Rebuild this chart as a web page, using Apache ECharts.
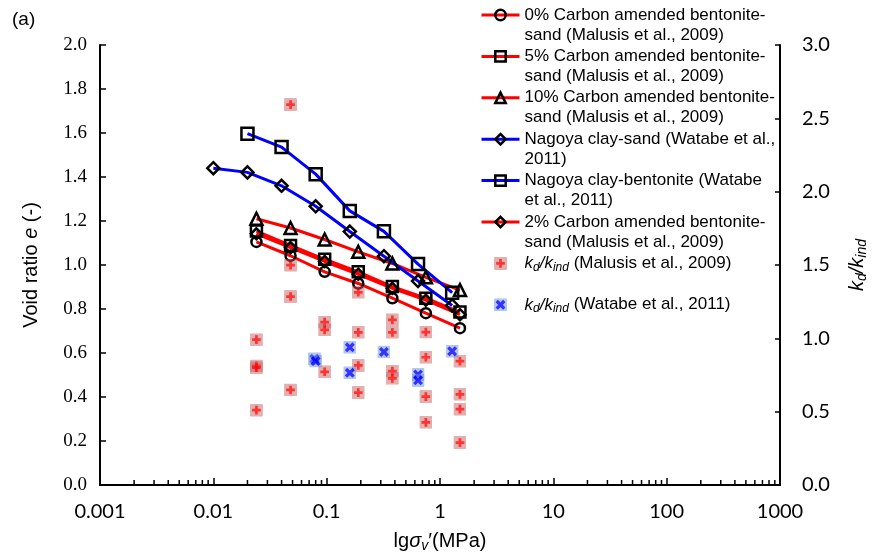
<!DOCTYPE html>
<html>
<head>
<meta charset="utf-8">
<script src="https://cdn.jsdelivr.net/npm/echarts@6/dist/echarts.min.js"></script>
<style>
  html, body { margin: 0; padding: 0; background: #fff; }
  #chart { width: 877px; height: 558px; }
</style>
</head>
<body>
<div id="chart"></div>
<script>
// vertical stress (MPa)
var malusisX = [0.024, 0.048, 0.096, 0.19, 0.38, 0.75, 1.5];
var watabeSandX = [0.01, 0.02, 0.04, 0.08, 0.16, 0.32, 0.64, 1.28];
var watabeBentX = [0.02, 0.04, 0.08, 0.16, 0.32, 0.64, 1.28];

// void ratio e
var carbon0 = [1.105, 1.042, 0.969, 0.916, 0.849, 0.781, 0.713];
var carbon5 = [1.154, 1.089, 1.026, 0.969, 0.902, 0.849, 0.786];
var carbon10 = [1.210, 1.168, 1.116, 1.060, 1.007, 0.944, 0.886];
var carbon2 = [1.142, 1.079, 1.016, 0.958, 0.894, 0.840, 0.774];
var nagoyaSand = [1.440, 1.421, 1.360, 1.267, 1.152, 1.040, 0.927, 0.816];
var nagoyaBent = [1.597, 1.536, 1.413, 1.246, 1.153, 1.004, 0.874];

// kd/kind
var kdMalusisX = [0.024, 0.024, 0.024, 0.024, 0.048, 0.048, 0.048, 0.048, 0.096, 0.096, 0.096,
  0.19, 0.19, 0.19, 0.19, 0.38, 0.38, 0.38, 0.38, 0.75, 0.75, 0.75, 0.75, 1.5, 1.5, 1.5, 1.5];
var kdMalusisY = [0.991, 0.812, 0.800, 0.510, 2.594, 1.499, 1.285, 0.648, 1.111, 1.058, 0.772,
  1.314, 1.041, 0.815, 0.630, 1.126, 1.041, 0.777, 0.727, 1.043, 0.871, 0.603, 0.427, 0.844, 0.618, 0.517, 0.289];
var kdWatabeX = [0.078, 0.08, 0.16, 0.16, 0.32, 0.64, 0.64, 1.28];
var kdWatabeY = [0.860, 0.845, 0.939, 0.765, 0.907, 0.754, 0.713, 0.912];

var xTickLabels = ['0.001', '0.01', '0.1', '1', '10', '100', '1000'];

// minor ticks of the log axis (2..9 in every decade)
var minorTicks = [];
for (var d = -3; d < 3; d++) {
  for (var k = 2; k <= 9; k++) {
    minorTicks.push([+(k * Math.pow(10, d)).toPrecision(2), 0]);
  }
}

var legendText = {
  'c0': '0% Carbon amended bentonite-\nsand (Malusis et al., 2009)',
  'c5': '5% Carbon amended bentonite-\nsand (Malusis et al., 2009)',
  'c10': '10% Carbon amended bentonite-\nsand (Malusis et al., 2009)',
  'ns': 'Nagoya clay-sand (Watabe et al.,\n2011)',
  'nb': 'Nagoya clay-bentonite (Watabe\net al., 2011)',
  'c2': '2% Carbon amended bentonite-\nsand (Malusis et al., 2009)',
  'km': '{i|k}{s|d}{i|/k}{s|ind}{n| (Malusis et al., 2009)}\n{n| }',
  'kw': '{i|k}{s|d}{i|/k}{s|ind}{n| (Watabe et al., 2011)}\n{n| }'
};

function pairs(xs, ys) {
  return xs.map(function (x, i) { return [x, ys[i]]; });
}

function svgSymbol(bg, mark) {
  var svg = "<svg xmlns='http://www.w3.org/2000/svg' width='24' height='24'>" +
    "<rect x='0' y='0' width='24' height='24' rx='2' fill='" + bg + "'/>" + mark + "</svg>";
  return 'image://data:image/svg+xml;charset=utf-8,' + encodeURIComponent(svg);
}
var plusSymbol = svgSymbol('rgba(196,90,90,0.6)',
  "<path d='M12 4V20M4 12H20' stroke='#ff0000' stroke-width='5'/>");
var crossSymbol = svgSymbol('rgba(100,140,215,0.6)',
  "<path d='M5 5L19 19M19 5L5 19' stroke='#0000ff' stroke-width='6'/>");

function lineSeries(key, xs, ys, color, symbol, size) {
  return {
    name: key,
    type: 'line',
    data: pairs(xs, ys),
    symbol: symbol,
    symbolSize: size,
    showAllSymbol: true,
    lineStyle: { color: color, width: 3 },
    itemStyle: { color: 'rgba(0,0,0,0)', borderColor: '#000', borderWidth: 2.5 },
    emphasis: { disabled: true },
    z: 3
  };
}

var chart = echarts.init(document.getElementById('chart'));

var option = {
  animation: false,
  title: {
    text: '(a)', left: 7, top: 5,
    textStyle: { fontFamily: 'Liberation Sans', fontSize: 19, fontWeight: 'normal', color: '#000' }
  },
  grid: { left: 100, right: 91, top: 45, bottom: 70 },
  legend: {
    orient: 'vertical',
    left: 480,
    top: -15,
    padding: 0,
    itemGap: -18.6,
    itemWidth: 38,
    itemHeight: 13,
    lineStyle: { width: 3 },
    itemStyle: { borderWidth: 2.5 },
    data: ['c0', 'c5', 'c10', 'ns', 'nb', 'c2', 'km', 'kw'],
    formatter: function (name) { return legendText[name]; },
    textStyle: {
      fontFamily: 'Liberation Sans', fontSize: 17, lineHeight: 20, color: '#000',
      padding: [20, 0, 0, 0],
      rich: {
        i: { fontFamily: 'Liberation Sans', fontStyle: 'italic', fontSize: 17, lineHeight: 20, color: '#000' },
        s: { fontFamily: 'Liberation Sans', fontStyle: 'italic', fontSize: 12, lineHeight: 12, verticalAlign: 'bottom', color: '#000' },
        n: { fontFamily: 'Liberation Sans', fontSize: 17, lineHeight: 20, color: '#000' }
      }
    }
  },
  xAxis: {
    type: 'log',
    logBase: 10,
    min: 0.001,
    max: 1000,
    name: '{n|lg}{i|σ}{s|v}{n|′(MPa)}',
    nameLocation: 'middle',
    nameGap: 44,
    nameTextStyle: {
      rich: {
        n: { fontFamily: 'Liberation Sans', fontSize: 20, color: '#000' },
        i: { fontFamily: 'Liberation Sans', fontStyle: 'italic', fontSize: 20, color: '#000' },
        s: { fontFamily: 'Liberation Sans', fontStyle: 'italic', fontSize: 14, color: '#000', padding: [10, 0, 0, 0] }
      }
    },
    axisLine: { lineStyle: { color: '#000', width: 2 } },
    axisTick: { inside: true, length: 7, lineStyle: { color: '#000', width: 1.5 } },
    axisLabel: {
      margin: 17, fontFamily: 'Lato', fontSize: 20, color: '#000',
      formatter: function (v) {
        var i = Math.round(Math.log10(v)) + 3;
        return xTickLabels[i] !== undefined ? xTickLabels[i] : '';
      }
    },
    splitLine: { show: false }
  },
  yAxis: [
    {
      type: 'value',
      min: 0, max: 2, interval: 0.2,
      name: '{n|Void ratio }{i|e}{n| (-)}',
      nameLocation: 'middle',
      nameGap: 59,
      nameTextStyle: {
        rich: {
          n: { fontFamily: 'Liberation Sans', fontSize: 20, color: '#000' },
          i: { fontFamily: 'Liberation Sans', fontStyle: 'italic', fontSize: 20, color: '#000' }
        }
      },
      axisLine: { show: true, lineStyle: { color: '#000', width: 2 } },
      axisTick: { show: true, inside: true, length: 6, lineStyle: { color: '#000', width: 1.5 } },
      axisLabel: {
        margin: 13, fontFamily: 'Liberation Serif', fontSize: 19, color: '#000',
        formatter: function (v) { return v.toFixed(1); }
      },
      splitLine: { show: false }
    },
    {
      type: 'value',
      position: 'right',
      min: 0, max: 3, interval: 0.5,
      name: '{i|k}{s|d}{i|/k}{s|ind}',
      nameLocation: 'middle',
      nameRotate: 90,
      nameGap: 66,
      nameTextStyle: {
        rich: {
          i: { fontFamily: 'Liberation Sans', fontStyle: 'italic', fontSize: 20, color: '#000' },
          s: { fontFamily: 'Liberation Sans', fontStyle: 'italic', fontSize: 14, color: '#000', padding: [9, 0, 0, 0] }
        }
      },
      axisLine: { show: true, lineStyle: { color: '#000', width: 2 } },
      axisTick: { show: true, inside: true, length: 5, lineStyle: { color: '#000', width: 1.5 } },
      axisLabel: {
        margin: 22, fontFamily: 'Lato', fontSize: 20, color: '#000',
        formatter: function (v) { return v.toFixed(1); }
      },
      splitLine: { show: false }
    }
  ],
  series: [
    {
      name: 'minor',
      type: 'custom',
      silent: true,
      data: minorTicks,
      renderItem: function (params, api) {
        var p = api.coord([api.value(0), api.value(1)]);
        return {
          type: 'line',
          shape: { x1: p[0], y1: p[1], x2: p[0], y2: p[1] - 5 },
          style: { stroke: '#000', lineWidth: 1.5 }
        };
      },
      z: 1
    },
    lineSeries('c0', malusisX, carbon0, '#ff0000', 'circle', 10),
    lineSeries('c5', malusisX, carbon5, '#ff0000', 'rect', 11),
    lineSeries('c10', malusisX, carbon10, '#ff0000', 'triangle', 12),
    lineSeries('ns', watabeSandX, nagoyaSand, '#0000ff', 'diamond', 12),
    lineSeries('nb', watabeBentX, nagoyaBent, '#0000ff', 'rect', 12),
    lineSeries('c2', malusisX, carbon2, '#ff0000', 'diamond', 11),
    {
      name: 'km',
      type: 'scatter',
      yAxisIndex: 1,
      data: pairs(kdMalusisX, kdMalusisY),
      symbol: plusSymbol,
      symbolSize: 13,
      emphasis: { disabled: true },
      z: 4
    },
    {
      name: 'kw',
      type: 'scatter',
      yAxisIndex: 1,
      data: pairs(kdWatabeX, kdWatabeY),
      symbol: crossSymbol,
      symbolSize: 13,
      emphasis: { disabled: true },
      z: 4
    }
  ]
};

chart.setOption(option);
</script>
</body>
</html>
